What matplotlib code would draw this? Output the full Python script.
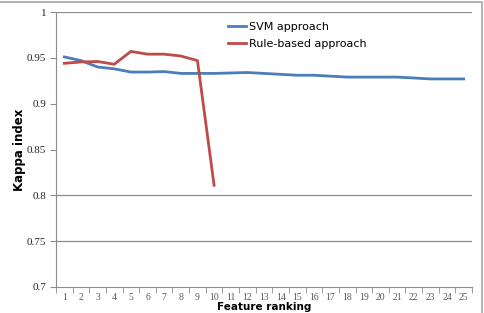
import numpy as np
import matplotlib
matplotlib.use("Agg")
import matplotlib.pyplot as plt
from matplotlib.lines import Line2D

# feature ranking on the x axis
ranks = list(range(1, 26))
svm = [0.951, 0.947, 0.940, 0.938, 0.9345, 0.9345, 0.935, 0.933, 0.933, 0.933,
       0.9335, 0.934, 0.933, 0.932, 0.931, 0.931, 0.930, 0.929, 0.929, 0.929,
       0.929, 0.928, 0.927, 0.927, 0.927]
rule_ranks = list(range(1, 11))
rule = [0.944, 0.9455, 0.946, 0.943, 0.957, 0.954, 0.954, 0.952, 0.947, 0.811]
yticks = [0.7, 0.75, 0.8, 0.85, 0.9, 0.95, 1.0]
ytick_labels = ["0.7", "0.75", "0.8", "0.85", "0.9", "0.95", "1"]
grid_at = [0.75, 0.8, 1.0]

fig = plt.figure(figsize=(4.85, 3.13), dpi=100)
ax = fig.add_axes([56/485, 1-287/313, (472-56)/485, (287-12)/313])

# chart border (top and right edges are all that show)
fig.lines.append(Line2D([0, 482/485, 482/485], [1-2/313, 1-2/313, 0],
                        transform=fig.transFigure, color="#a6a6a6", linewidth=1.2))

for g in grid_at:
    ax.axhline(g, color="#8c8c8c", linewidth=0.9, zorder=0)

ax.plot(ranks, svm, color="#4a7ebb", linewidth=2.0, label="SVM approach")
ax.plot(rule_ranks, rule, color="#be4b48", linewidth=2.0, label="Rule-based approach")

ax.set_xlim(0.5, 25.5)
ax.set_ylim(0.7, 1.0)
ax.set_xticks(ranks)
ax.set_xticklabels([str(r) for r in ranks], fontsize=7, color="#595959",
                   family="Liberation Serif")
ax.set_xticks(np.arange(0.5, 26, 1), minor=True)
ax.tick_params(axis="x", which="major", length=0, pad=4)
ax.tick_params(axis="x", which="minor", length=4, color="#8c8c8c", direction="out")
ax.set_yticks(yticks)
ax.set_yticklabels(ytick_labels, fontsize=8, family="Liberation Serif", color="#262626")
ax.tick_params(axis="y", length=4, color="#8c8c8c", direction="out", pad=3)

for s in ["top", "right"]:
    ax.spines[s].set_visible(False)
for s in ["left", "bottom"]:
    ax.spines[s].set_color("#8c8c8c")

ax.set_xlabel("Feature ranking", fontsize=7.5, fontweight="bold", labelpad=0.5)
ax.set_ylabel("Kappa index", fontsize=8.5, fontweight="bold", labelpad=1)

ax.legend(loc="upper left", bbox_to_anchor=(0.39, 1.0), frameon=False, fontsize=8,
          handlelength=1.6, handletextpad=0.3, labelspacing=0.6)

fig.savefig("out.png", dpi=100)
